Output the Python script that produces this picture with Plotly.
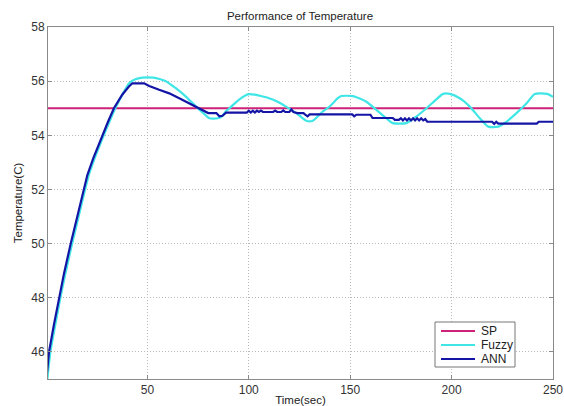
import plotly.graph_objects as go

# ---- data ----
sp_time = [1, 250]
sp_temp = [55.0, 55.0]

fuzzy_time = [0.7, 2.2, 4.6, 7.1, 9.6, 12.9, 16.1, 19.3, 21.1, 24.0, 28.5, 31.3, 34.2,
              38.0, 41.0, 44, 47.5, 53, 56, 59.1, 64, 69, 74, 77.3, 80.6, 84.7, 87,
              88.8, 90.5, 95.4, 100, 103, 106, 110, 114, 118.4, 123.4, 128.3, 131.6,
              136.5, 139.8, 143.9, 145.6, 151.3, 155, 158, 162.9, 167.8, 171, 177.7,
              182.6, 187.6, 192.5, 195.8, 199.1, 204, 209, 213.9, 218, 223, 227, 232,
              237, 241, 247, 250]
fuzzy_temp = [45.0, 46.0, 47.0, 48.0, 48.9, 50.0, 51.0, 52.0, 52.53, 53.15, 54.0, 54.5,
              55.0, 55.55, 55.92, 56.07, 56.13, 56.13, 56.08, 56.0, 55.74, 55.43, 55.06,
              54.84, 54.63, 54.63, 54.72, 54.9, 55.0, 55.33, 55.52, 55.5, 55.45, 55.37,
              55.25, 55.06, 54.82, 54.54, 54.54, 54.88, 55.06, 55.37, 55.45, 55.45,
              55.35, 55.24, 54.94, 54.63, 54.45, 54.45, 54.69, 55.0, 55.33, 55.53, 55.53,
              55.37, 55.06, 54.63, 54.32, 54.32, 54.5, 54.82, 55.18, 55.53, 55.53, 55.42]

ann_time = [0.2, 1.5, 3.9, 6.4, 8.9, 12.2, 15.4, 18.6, 20.4, 23.3, 27.8, 30.6, 33.5,
            37.6, 40.9, 42.6, 48.4, 50.9, 55.8, 60.8, 65.7, 70.7, 74.8, 78.1, 80, 84,
            85.5, 87, 88.8, 99, 100, 101, 102, 103, 104, 105, 106, 107, 112, 113, 114,
            116, 117, 118, 120, 121, 122, 124, 127, 128, 129, 130, 151, 152, 153, 160,
            161, 171, 172, 174, 175, 176, 177, 178, 179, 180, 181, 182, 183, 184, 185,
            186, 187, 188, 220, 221, 222, 223, 242, 243, 250]
ann_temp = [45.0, 46.0, 47.0, 48.0, 48.9, 50.0, 51.0, 52.0, 52.53, 53.15, 54.0, 54.5,
            55.0, 55.5, 55.8, 55.92, 55.92, 55.82, 55.68, 55.55, 55.37, 55.18, 55.0,
            54.88, 54.82, 54.82, 54.7, 54.72, 54.84, 54.84, 54.91, 54.84, 54.91, 54.84,
            54.91, 54.86, 54.91, 54.86, 54.86, 54.91, 54.86, 54.86, 54.92, 54.86, 54.86,
            54.95, 54.86, 54.82, 54.82, 54.75, 54.7, 54.77, 54.77, 54.7, 54.76, 54.76,
            54.64, 54.64, 54.57, 54.57, 54.63, 54.55, 54.63, 54.55, 54.63, 54.55, 54.63,
            54.55, 54.63, 54.55, 54.63, 54.55, 54.6, 54.5, 54.5, 54.42, 54.5, 54.43,
            54.43, 54.5, 54.5]

series_names = ["SP", "Fuzzy", "ANN"]
series_colors = ["#CC2277", "#40E6E6", "#1515A5"]

x_ticks = [50, 100, 150, 200, 250]
y_ticks = [46, 48, 50, 52, 54, 56, 58]

FONT = "Liberation Sans, Arial, sans-serif"

fig = go.Figure()
fig.add_trace(go.Scatter(x=sp_time, y=sp_temp, mode="lines", name=series_names[0],
                         line=dict(color=series_colors[0], width=2)))
fig.add_trace(go.Scatter(x=fuzzy_time, y=fuzzy_temp, mode="lines", name=series_names[1],
                         line=dict(color=series_colors[1], width=2.2, shape="spline",
                                   smoothing=0.6)))
fig.add_trace(go.Scatter(x=ann_time, y=ann_temp, mode="lines", name=series_names[2],
                         line=dict(color=series_colors[2], width=2.2)))

axis_common = dict(showline=True, linecolor="#8a8a8a", linewidth=1, mirror="ticks",
                   ticks="inside", ticklen=4, tickcolor="#8a8a8a", automargin=False,
                   showgrid=True, gridcolor="#b8b8b8", griddash="1px,2px", gridwidth=1,
                   zeroline=False, tickfont=dict(family=FONT, size=12, color="#333333"))

fig.update_xaxes(range=[1, 250], tickvals=x_ticks,
                 title=dict(text="Time(sec)", font=dict(family=FONT, size=11.5, color="#222"),
                            standoff=0),
                 **axis_common)
fig.update_yaxes(range=[45, 58], tickvals=y_ticks,
                 title=dict(text="Temperature(C)", font=dict(family=FONT, size=11.5, color="#222"),
                            standoff=6),
                 **axis_common)

# compact boxed legend (MATLAB style), built from the series names/colours
PL, PR, PT, PB = 48, 553, 27, 379
def px_x(p):
    return (p - PL) / (PR - PL)
def px_y(p):
    return (PB - p) / (PB - PT)

fig.add_shape(type="rect", xref="paper", yref="paper",
              x0=px_x(435), x1=px_x(515), y0=px_y(367), y1=px_y(322),
              fillcolor="white", line=dict(color="#777777", width=1), layer="above")
for i, (nm, col) in enumerate(zip(series_names, series_colors)):
    yc = 331 + 14 * i
    fig.add_shape(type="line", xref="paper", yref="paper",
                  x0=px_x(441), x1=px_x(475), y0=px_y(yc), y1=px_y(yc),
                  line=dict(color=col, width=2), layer="above")
    fig.add_annotation(xref="paper", yref="paper", x=px_x(479), y=px_y(yc),
                       xanchor="left", yanchor="middle", showarrow=False, text=nm,
                       font=dict(family=FONT, size=12, color="#222"))

fig.update_layout(
    width=564, height=406,
    margin=dict(l=PL, r=564 - PR, t=PT, b=406 - PB),
    paper_bgcolor="white", plot_bgcolor="white",
    title=dict(text="Performance of Temperature", x=300 / 564, xref="container",
               xanchor="center", y=1 - 16 / 406, yref="container", yanchor="middle",
               font=dict(family=FONT, size=11.5, color="#222")),
    showlegend=False,
)

fig.write_html("out.html")
